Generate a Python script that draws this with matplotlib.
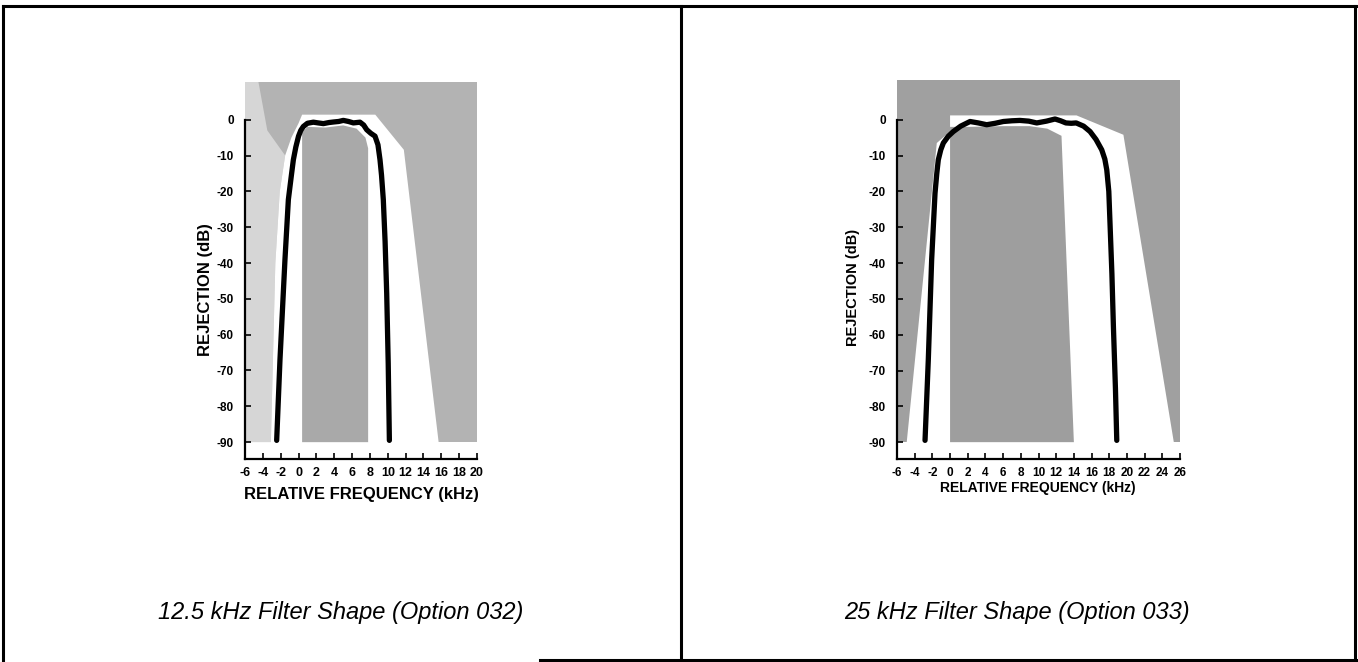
import matplotlib
matplotlib.use("Agg")
import matplotlib.pyplot as plt
from matplotlib.lines import Line2D

plt.rcParams["font.family"] = ["Liberation Sans", "DejaVu Sans"]
plt.rcParams["axes.unicode_minus"] = False

W, H = 1358, 662

# ---- 12.5 kHz filter (Option 032) ----
freq_125 = [-2.45, -2.08, -1.52, -1.14, -0.8, -0.58, -0.3, 0.0, 0.25, 0.54,
            1.0, 1.66, 2.2, 2.78, 3.4, 3.9, 4.5, 5.02, 5.6, 6.14, 6.89,
            7.3, 7.64, 8.1, 8.57, 8.9, 9.13, 9.3, 9.5, 9.7, 9.88, 10.05, 10.18]
rej_125 = [-89.5, -67, -39, -22.3, -15.5, -11.2, -7.6, -4.6, -3.0, -1.9,
           -1.0, -0.7, -0.9, -1.1, -0.8, -0.65, -0.5, -0.2, -0.5, -0.9, -0.7,
           -1.5, -2.8, -3.8, -4.6, -7.0, -11.2, -15.5, -22.3, -34, -48.4, -68, -89.5]
# mask outlines (kHz, dB)
gap_125 = [(-3.1, -90), (-2.6, -40), (-2.1, -20), (-1.5, -10), (-0.8, -5),
           (0.0, -1), (0.4, 1.4), (8.6, 1.4), (11.8, -8.4), (15.7, -90)]
inner_125 = [(0.4, -90), (0.4, -3.5), (1.0, -2.0), (3.0, -2.2), (5.0, -1.6),
             (6.5, -2.5), (7.5, -5.0), (7.8, -8.0), (7.8, -90)]
light_125 = [(-6, -90), (-3.1, -90), (-2.6, -40), (-2.1, -20), (-1.5, -10),
             (-3.5, -3), (-4.5, 10.6), (-6, 10.6)]
xticks_125 = list(range(-6, 21, 2))

# ---- 25 kHz filter (Option 033) ----
freq_25 = [-2.83, -2.46, -2.08, -1.7, -1.5, -1.33, -1.05, -0.76, -0.2, 0.37,
           1.2, 2.26, 3.2, 4.14, 5.1, 6.02, 7.0, 7.9, 8.9, 9.8, 10.9, 11.87,
           12.5, 13.1, 13.7, 14.26, 15.1, 15.83, 16.5, 17.15, 17.5, 17.72,
           17.95, 18.1, 18.3, 18.47, 18.7, 18.85]
rej_25 = [-89.5, -67, -39, -20.5, -15, -11.2, -8.4, -6.5, -4.6, -3.3,
          -1.8, -0.5, -0.9, -1.4, -1.0, -0.5, -0.3, -0.2, -0.4, -0.9, -0.4, 0.2,
          -0.3, -0.9, -1.0, -0.9, -1.8, -3.3, -5.5, -8.4, -11, -14,
          -20, -29.8, -43, -57.7, -75, -89.5]
gap_25 = [(-4.9, -90), (-1.5, -6.5), (0.0, -3.3), (0.0, 1.2), (14.3, 1.2),
          (19.6, -4.2), (25.3, -90)]
inner_25 = [(0.0, -90), (0.0, -2.0), (2.0, -2.0), (6.0, -1.8), (9.0, -1.8),
            (11.0, -2.5), (12.6, -4.5), (14.0, -90)]
xticks_25 = list(range(-6, 27, 2))

yticks = list(range(0, -91, -10))


def px_box(left, right, bottom, top):
    return [left / W, 1 - bottom / H, (right - left) / W, (bottom - top) / H]


def draw_panel(ax, freq, rej, gap, inner, light, xticks, xmax, ymax,
               base, inner_col, tick_fs):
    ax.set_xlim(-6, xmax)
    ax.set_ylim(-94.7, ymax)
    ax.fill([-6, xmax, xmax, -6], [-90, -90, ymax, ymax], color=base, lw=0)
    if light:
        ax.fill(*zip(*light), color="#d6d6d6", lw=0)
    ax.fill(*zip(*gap), color="white", lw=0)
    ax.fill(*zip(*inner), color=inner_col, lw=0)
    ax.plot(freq, rej, color="black", lw=3.8, solid_capstyle="round",
            solid_joinstyle="round")

    for s in ["top", "right"]:
        ax.spines[s].set_visible(False)
    ax.spines["left"].set_bounds(-94.7, 0)
    ax.spines["left"].set_linewidth(1.6)
    ax.spines["bottom"].set_linewidth(1.6)
    ax.set_xticks(xticks)
    ax.set_yticks(yticks)
    ax.tick_params(direction="in", length=4, width=1.2, pad=6)
    ax.tick_params(axis="y", pad=8)
    for lab in ax.get_xticklabels():
        lab.set_fontsize(tick_fs)
        lab.set_fontweight("bold")
    for lab in ax.get_yticklabels():
        lab.set_fontsize(8.5)
        lab.set_fontweight("bold")
    ax.patch.set_alpha(0)


fig = plt.figure(figsize=(W / 100, H / 100), dpi=100)

ax1 = fig.add_axes(px_box(245, 477, 459, 81.7))
draw_panel(ax1, freq_125, rej_125, gap_125, inner_125, light_125,
           xticks_125, 20, 10.6, "#b3b3b3", "#a9a9a9", 9)

ax2 = fig.add_axes(px_box(897, 1180, 459, 80.3))
draw_panel(ax2, freq_25, rej_25, gap_25, inner_25, None,
           xticks_25, 26, 11, "#a0a0a0", "#9e9e9e", 8.5)

# axis titles
fig.text(206 / W, 1 - 290 / H, "REJECTION (dB)", rotation=90, ha="center",
         va="center", fontsize=12, fontweight="bold")
fig.text(361 / W, 1 - 494 / H, "RELATIVE FREQUENCY (kHz)", ha="center",
         va="center", fontsize=12, fontweight="bold")
fig.text(853 / W, 1 - 287 / H, "REJECTION (dB)", rotation=90, ha="center",
         va="center", fontsize=10.5, fontweight="bold")
fig.text(1038 / W, 1 - 488 / H, "RELATIVE FREQUENCY (kHz)", ha="center",
         va="center", fontsize=10, fontweight="bold")

# captions
fig.text(341 / W, 1 - 613 / H, "12.5 kHz Filter Shape (Option 032)",
         ha="center", va="center", fontsize=17, style="italic")
fig.text(1017 / W, 1 - 613 / H, "25 kHz Filter Shape (Option 033)",
         ha="center", va="center", fontsize=17, style="italic")

# frame around the two panels
frame = [((3, 1356), (6, 6)), ((3, 3), (6, 662)), ((681, 681), (6, 662)),
         ((1355, 1355), (6, 662)), ((540, 1356), (660, 660))]
for xs, ys in frame:
    fig.add_artist(Line2D([x / W for x in xs], [1 - y / H for y in ys],
                          color="black", lw=2.2, transform=fig.transFigure))

fig.savefig("out.png", dpi=100)
